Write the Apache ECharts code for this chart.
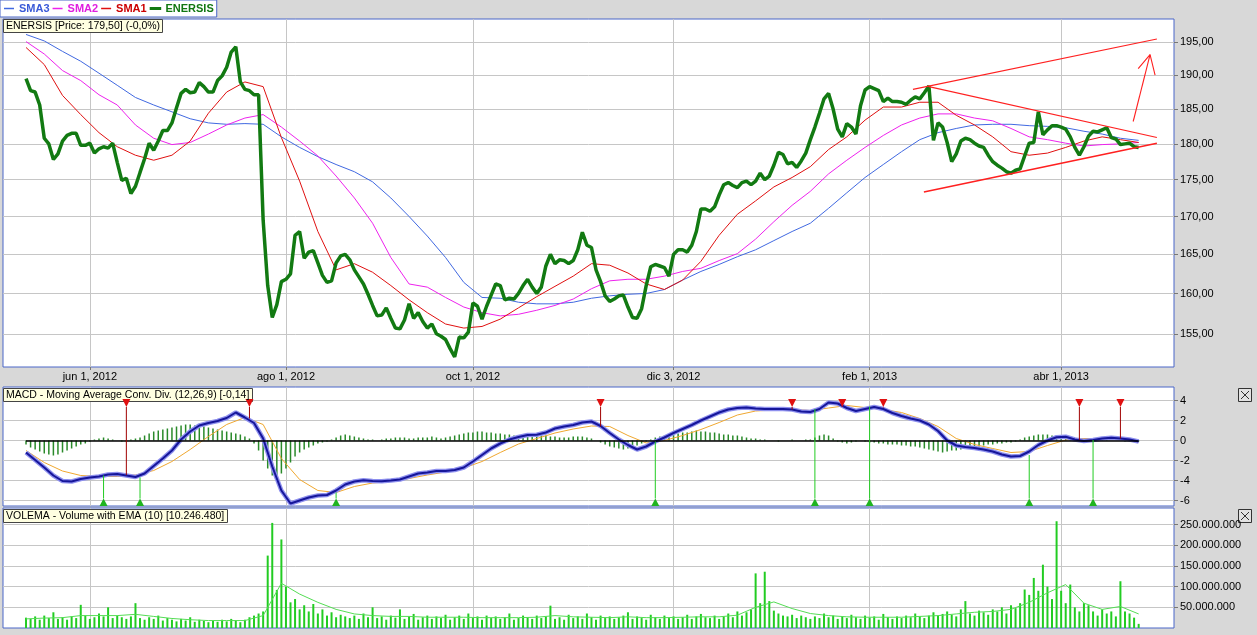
<!DOCTYPE html>
<html><head><meta charset="utf-8">
<script src="https://cdn.jsdelivr.net/npm/echarts@6/dist/echarts.min.js"></script>
<style>html,body{margin:0;padding:0;background:#d8d8d8}#c{width:1257px;height:635px}</style>
</head><body><div id="c"></div>
<script>
// ---------- axis ticks ----------
const dateTickDays = [14, 57, 98, 142, 185, 227];
const dateTickLabels = ['jun 1, 2012', 'ago 1, 2012', 'oct 1, 2012', 'dic 3, 2012', 'feb 1, 2013', 'abr 1, 2013'];
const priceTicks = [155, 160, 165, 170, 175, 180, 185, 190, 195];
const macdTicks = [-6, -4, -2, 0, 2, 4];
const volumeTicks = [50e6, 100e6, 150e6, 200e6, 250e6];

// ---------- price (one value per trading day) ----------
const enersis = [
189.5,187.7,187.5,185.6,180.8,180.0,177.8,178.6,180.4,181.2,
181.5,181.5,179.8,179.8,180.1,178.7,179.3,179.6,179.4,180.1,
177.4,174.9,175.2,173.1,174.1,176.0,177.9,180.1,179.1,180.4,
181.9,181.9,183.0,185.2,187.3,187.9,187.4,187.5,188.9,188.3,
187.5,187.5,189.2,189.9,191.2,193.5,194.3,189.0,187.9,187.7,
187.1,187.1,169.5,161.0,157.0,158.6,161.5,161.8,162.5,167.5,
168.0,164.5,165.3,165.5,163.9,162.3,161.4,161.6,163.9,164.8,
165.0,164.3,163.0,162.1,161.2,159.9,158.5,157.2,157.3,158.2,
156.9,155.7,155.6,156.7,158.7,156.9,157.6,156.5,155.7,156.2,
155.0,154.7,154.3,153.2,152.2,154.6,154.5,155.2,158.8,158.4,
156.8,158.4,159.8,161.2,161.0,159.2,159.4,159.3,160.0,161.0,
161.8,160.8,160.0,160.8,163.5,165.0,163.8,164.3,164.2,163.8,
164.2,165.6,167.9,166.2,165.9,163.0,161.5,159.7,159.0,159.3,
159.7,159.8,158.3,157.0,156.9,158.1,161.0,163.4,163.7,163.5,
163.3,162.2,165.0,165.6,165.6,165.3,166.2,168.0,171.0,171.0,
170.7,171.3,172.9,174.3,174.6,174.2,173.9,174.6,174.8,174.3,
174.8,175.9,175.0,175.5,177.0,178.8,178.5,177.2,177.4,176.7,
177.6,178.7,180.6,182.4,184.4,186.5,187.3,185.0,182.1,181.0,
182.9,182.4,181.4,185.5,187.8,188.3,188.0,187.7,186.1,186.6,
186.1,186.1,186.0,185.7,186.3,186.8,186.5,187.4,188.4,180.5,
183.0,182.4,180.2,177.5,178.6,180.4,180.8,180.6,180.1,179.7,
179.5,178.4,177.5,177.0,176.6,176.1,175.9,176.3,176.5,178.3,
180.1,180.2,184.6,181.3,182.0,182.6,182.6,182.4,182.1,181.0,
179.5,178.4,179.6,181.1,181.8,181.7,182.0,182.3,180.9,180.7,
179.9,180.0,180.1,179.6,179.5];

// ---------- moving averages (one value every 4 trading days) ----------
const SMA_STEP = 4;
const sma1 = [
194.2,191.6,187.0,184.2,181.6,179.6,178.4,177.7,178.4,180.4,
184.4,187.5,189.0,188.3,180.9,174.8,168.0,163.0,163.8,162.7,
161.0,159.2,157.6,156.2,155.7,155.9,156.8,158.2,159.6,160.9,
162.2,163.8,163.6,162.6,161.2,160.5,161.7,164.1,167.5,170.3,
172.1,174.0,175.3,176.8,179.2,181.0,183.4,185.3,185.3,186.0,
186.0,184.1,182.7,181.0,178.9,178.4,178.7,179.5,180.4,181.0,
180.6,180.2];
const sma2 = [
195.1,193.2,190.7,189.2,187.1,185.6,182.7,180.8,179.9,180.2,
181.4,182.7,183.7,184.2,182.4,180.4,178.3,175.5,172.5,169.1,
164.6,161.2,160.8,159.5,158.3,157.6,157.2,157.4,157.9,158.5,
159.3,160.6,161.6,161.8,161.8,162.2,162.8,163.2,164.2,165.1,
167.0,169.3,171.5,173.4,175.8,177.7,179.5,181.2,182.7,183.7,
184.3,184.3,183.7,183.3,182.2,181.0,180.6,180.1,179.7,179.9,
180.0,180.2];
const sma3 = [
196.2,195.2,193.6,192.1,190.3,188.5,186.7,185.6,184.6,183.6,
183.0,182.8,182.9,182.8,181.0,179.5,178.2,177.1,176.1,174.7,
172.5,170.0,167.4,164.6,161.4,159.5,159.4,158.9,158.7,158.7,
158.9,159.4,159.7,159.9,160.0,160.5,161.7,162.8,163.7,164.7,
165.6,166.8,168.0,169.1,171.1,173.2,175.3,177.1,178.9,180.6,
181.6,182.2,182.7,182.8,182.8,182.6,182.5,182.3,181.8,181.4,
180.8,180.5];

// ---------- hand-drawn trend lines [day, price] ----------
const trendUpper = [[194.5, 187.9], [248.0, 195.5]];
const trendFalling = [[198.0, 188.3], [248.0, 180.9]];
const trendRising = [[196.9, 173.3], [248.0, 180.1]];
const arrowShaft = [[242.8, 183.2], [246.5, 193.1]];
const arrowHead = [[243.9, 191.0], [246.5, 193.1], [247.6, 190.0]];

// ---------- MACD ----------
const MACD_STEP = 2;
const macdLine = [
-1.2,-1.95,-2.7,-3.5,-4.05,-4.1,-3.85,-3.7,-3.6,-3.4,
-3.35,-3.5,-3.65,-3.3,-2.55,-1.8,-1.0,0.1,0.9,1.5,
1.75,1.95,2.25,2.8,2.3,1.75,0.2,-2.6,-5.0,-6.3,
-6.0,-5.7,-5.5,-5.45,-5.0,-4.4,-4.1,-3.97,-4.05,-4.08,
-4.0,-3.9,-3.6,-3.3,-3.2,-3.05,-3.05,-2.95,-2.7,-2.1,
-1.45,-0.8,-0.3,0.1,0.35,0.55,0.58,0.8,1.2,1.4,
1.55,1.8,1.9,1.45,0.75,0.1,-0.45,-0.9,-0.6,-0.1,
0.3,0.75,1.15,1.55,2.0,2.4,2.8,3.1,3.25,3.3,
3.2,3.15,3.15,3.15,3.1,2.9,2.85,3.15,3.8,3.7,
3.25,2.95,3.15,3.35,3.15,2.75,2.45,2.2,2.0,1.6,
0.95,0.0,-0.5,-0.65,-0.75,-0.9,-1.1,-1.4,-1.6,-1.55,
-1.1,-0.45,0.0,0.33,0.38,0.1,-0.05,0.05,0.2,0.28,
0.2,0.1,-0.1];
const SIGNAL_STEP = 4;
const signalLine = [
-1.0,-2.2,-3.05,-3.5,-3.6,-3.6,-3.45,-3.0,-2.1,-0.9,
0.4,1.6,2.3,1.6,-1.8,-3.9,-5.0,-5.2,-4.6,-4.25,
-4.1,-3.8,-3.45,-3.15,-2.75,-2.1,-1.2,-0.35,0.2,0.75,
1.15,1.45,1.4,0.5,-0.25,0.0,0.5,1.1,1.8,2.55,
2.95,3.05,3.1,3.0,3.25,3.5,3.3,3.1,2.8,2.2,
1.4,0.2,-0.4,-0.8,-1.2,-1.1,-0.5,0.05,0.2,0.2,
0.12,0.0];
const histogram = [
-0.4,-0.7,-0.9,-1.1,-1.3,-1.4,-1.5,-1.4,-1.2,-1.0,
-0.8,-0.6,-0.4,-0.3,-0.1,0.1,0.2,0.3,0.2,0.1,
0.0,-0.1,-0.1,0.1,0.2,0.3,0.5,0.7,0.9,1.0,
1.1,1.2,1.3,1.4,1.5,1.6,1.6,1.5,1.5,1.4,
1.3,1.2,1.1,1.0,0.9,0.8,0.7,0.6,0.4,0.2,
-0.3,-1.0,-2.0,-2.8,-3.5,-3.7,-3.3,-2.8,-2.2,-1.6,
-1.2,-0.9,-0.7,-0.5,-0.3,-0.2,-0.1,0.1,0.3,0.5,
0.6,0.5,0.4,0.3,0.2,0.1,0.1,0.0,0.1,0.2,
0.2,0.3,0.3,0.3,0.2,0.2,0.3,0.3,0.3,0.4,
0.3,0.2,0.3,0.4,0.5,0.6,0.7,0.8,0.8,0.9,
0.9,0.8,0.8,0.7,0.7,0.6,0.6,0.5,0.4,0.3,
0.4,0.4,0.5,0.5,0.5,0.4,0.4,0.3,0.3,0.3,
0.4,0.4,0.4,0.3,0.2,0.0,-0.2,-0.4,-0.6,-0.7,
-0.8,-0.9,-0.8,-0.7,-0.5,-0.3,-0.1,0.1,0.3,0.4,
0.5,0.6,0.6,0.7,0.8,0.8,0.9,1.0,0.9,0.9,
0.8,0.8,0.7,0.6,0.6,0.5,0.5,0.4,0.3,0.2,
0.2,0.1,0.1,0.0,0.0,-0.1,0.0,0.0,0.1,0.0,
0.0,0.1,0.1,0.3,0.5,0.6,0.5,0.2,-0.1,-0.2,
-0.3,-0.2,-0.1,0.0,-0.1,-0.2,-0.2,-0.3,-0.3,-0.4,
-0.4,-0.4,-0.5,-0.5,-0.6,-0.6,-0.7,-0.8,-0.9,-1.0,
-1.1,-1.2,-1.1,-1.0,-1.0,-0.9,-0.8,-0.7,-0.6,-0.6,
-0.5,-0.4,-0.4,-0.3,-0.3,-0.2,-0.2,-0.1,0.1,0.3,
0.4,0.5,0.6,0.6,0.6,0.5,0.5,0.4,0.3,0.2,
0.1,0.0,-0.1,0.0,0.1,0.1,0.1,0.1,0.0,0.0,
0.0,-0.1,-0.1,-0.1,-0.1];
// crossover signals [day, MACD value]
const buySignals = [[17,-3.5],[25,-3.7],[68,-5.2],[138,-0.1],[173,3.15],[185,3.4],[220,-1.45],[234,0.05]];
const sellSignals = [[22,-3.45],[49,2.2],[126,1.4],[168,3.1],[179,3.4],[188,3.3],[231,0.05],[240,0.2]];

// ---------- volume (millions, one per trading day) ----------
const volumeM = [
25,22,28,20,30,24,38,22,26,20,
28,24,56,30,22,26,35,28,50,24,
30,26,22,28,60,24,20,26,22,30,
18,24,20,16,22,18,26,15,20,17,
14,18,15,20,16,22,18,14,20,26,
30,35,40,175,254,92,214,100,62,70,
45,55,40,58,35,45,30,38,26,32,
28,24,30,22,35,26,50,24,28,20,
30,25,45,22,28,34,20,26,30,22,
28,24,32,20,26,30,22,35,24,28,
20,30,24,28,22,26,35,20,24,30,
26,22,30,24,28,54,22,26,20,32,
24,28,22,35,26,20,30,24,28,22,
26,30,38,22,28,24,20,32,26,22,
30,24,28,22,26,32,22,28,34,26,
24,30,22,28,35,26,40,30,38,45,
132,60,136,65,42,35,30,28,32,24,
30,26,22,28,24,35,26,30,22,28,
24,32,26,22,30,25,28,20,34,26,
22,28,24,30,26,35,28,24,30,38,
30,34,40,32,28,45,65,35,30,42,
38,32,45,40,50,35,55,48,60,93,
80,121,90,153,100,70,258,90,60,105,
50,40,60,55,40,30,45,35,40,28,
113,40,35,25,10];
const EMA_STEP = 4;
const volumeEmaM = [
22,24,25,30,30,30,33,28,23,20,
18,18,18,30,108,82,62,45,34,30,
28,28,26,26,26,25,25,25,26,30,
27,26,25,27,25,25,26,27,27,31,
50,63,47,35,30,27,26,26,26,28,
30,34,38,40,45,62,85,105,60,45,
52,34];

// ---------- layout constants ----------
const X_MIN = -5.05, X_MAX = 251.75;
const FONT = 'Arial, "Liberation Sans", sans-serif';
const BORDER = '#4a66c8';
const gridLine = {show: true, lineStyle: {color: '#c6c6c6', width: 1}};

function xAxis(gi, labels) {
  return {
    type: 'value', gridIndex: gi, min: X_MIN, max: X_MAX,
    axisLine: {show: false, onZero: false},
    axisTick: {show: labels, customValues: dateTickDays, length: 3, lineStyle: {color: '#777'}},
    axisLabel: {show: labels, customValues: dateTickDays, color: '#000', fontSize: 11, fontFamily: FONT, margin: 4,
      formatter: v => { const i = dateTickDays.indexOf(Math.round(v)); return i >= 0 ? dateTickLabels[i] : ''; }},
    splitLine: gridLine
  };
}
function yAxis(gi, min, max, ticks, fmt) {
  return {
    type: 'value', gridIndex: gi, position: 'right', min: min, max: max,
    axisLine: {show: false, onZero: false},
    axisTick: {show: true, customValues: ticks, length: 4, lineStyle: {color: '#777'}},
    axisLabel: {customValues: ticks, formatter: fmt, color: '#000', fontSize: 11, fontFamily: FONT, margin: 6},
    splitLine: gridLine
  };
}
const dots = n => String(Math.round(n)).replace(/\B(?=(\d{3})+(?!\d))/g, '.');
const logTicks = priceTicks.map(Math.log);

function signalRenderer(isSell) {
  return function (params, api) {
    const d = api.value(0), v = api.value(1);
    const p = api.coord([d, v]);
    const e = api.coord([d, isSell ? 4.05 : -6.5]);
    const tip = isSell ? e[1] + 7 : e[1] - 7;
    const base = isSell ? e[1] - 1 : e[1] + 0.5;
    return {
      type: 'group', children: [
        {type: 'line', shape: {x1: e[0], y1: tip, x2: p[0], y2: p[1]},
          style: {stroke: isSell ? '#a00000' : '#22cc22', lineWidth: 1}},
        {type: 'polygon', shape: {points: [[e[0] - 4, base], [e[0] + 4, base], [e[0], tip]]},
          style: {fill: isSell ? '#e01010' : '#1fb41f'}}
      ]
    };
  };
}

const boxTitle = (text, top) => ({
  text: text, left: 3, top: top, padding: [1, 3, 1, 3],
  backgroundColor: '#ffffe1', borderColor: '#444', borderWidth: 1,
  textStyle: {fontSize: 10.5, fontWeight: 'normal', color: '#000', fontFamily: FONT, lineHeight: 12}
});

const trendSeries = [trendUpper, trendFalling, trendRising, arrowShaft, arrowHead].map((pts, k) => ({
  type: 'line', xAxisIndex: 0, yAxisIndex: 0, silent: true, showSymbol: false, z: 6,
  data: pts.map(p => [p[0], Math.log(p[1])]),
  lineStyle: {color: '#ff2020', width: k === 2 ? 1.6 : 1.1}
}));

const option = {
  animation: false,
  backgroundColor: '#d8d8d8',
  title: [
    boxTitle('ENERSIS [Price: 179,50] (-0,0%)', 19),
    boxTitle('MACD - Moving Average Conv. Div. (12,26,9) [-0,14]', 388),
    boxTitle('VOLEMA - Volume with EMA (10) [10.246.480]', 509)
  ],
  legend: {
    left: 0, top: 0, padding: [3, 3, 3, 4], itemGap: 3, itemWidth: 10, itemHeight: 1.5,
    backgroundColor: '#fff', borderColor: BORDER, borderWidth: 1, selectedMode: false,
    textStyle: {fontSize: 11, fontWeight: 'bold', fontFamily: FONT},
    data: [
      {name: 'SMA3', icon: 'rect', itemStyle: {color: '#4169e1'}, textStyle: {color: '#3a5ad8'}},
      {name: 'SMA2', icon: 'rect', itemStyle: {color: '#ee22ee'}, textStyle: {color: '#e020e0'}},
      {name: 'SMA1', icon: 'rect', itemStyle: {color: '#e01010'}, textStyle: {color: '#cc0000'}},
      {name: 'ENERSIS', icon: 'rect', itemStyle: {color: '#127a12', borderColor: '#127a12', borderWidth: 1.5}, textStyle: {color: '#117711'}}
    ]
  },
  grid: [
    {left: 3, top: 19, width: 1171, height: 348, show: true, backgroundColor: '#fff', borderColor: BORDER, borderWidth: 1},
    {left: 3, top: 387, width: 1171, height: 119, show: true, backgroundColor: '#fff', borderColor: BORDER, borderWidth: 1},
    {left: 3, top: 508, width: 1171, height: 120, show: true, backgroundColor: '#fff', borderColor: BORDER, borderWidth: 1}
  ],
  xAxis: [xAxis(0, true), xAxis(1, false), xAxis(2, false)],
  yAxis: [
    yAxis(0, Math.log(151.0), Math.log(198.6), logTicks, v => Math.exp(v).toFixed(2).replace('.', ',')),
    yAxis(1, -6.55, 5.35, macdTicks, v => String(v)),
    yAxis(2, 0, 290e6, volumeTicks, v => dots(v))
  ],
  graphic: [388, 509].map(t => ({
    type: 'group', left: 1238, top: t, children: [
      {type: 'rect', shape: {x: 0, y: 0, width: 13, height: 13}, style: {fill: '#e2e2e2', stroke: '#333', lineWidth: 1}},
      {type: 'line', shape: {x1: 2.5, y1: 2.5, x2: 10.5, y2: 10.5}, style: {stroke: '#333', lineWidth: 1}},
      {type: 'line', shape: {x1: 10.5, y1: 2.5, x2: 2.5, y2: 10.5}, style: {stroke: '#333', lineWidth: 1}}
    ]
  })),
  series: [
    {name: 'SMA3', type: 'line', xAxisIndex: 0, yAxisIndex: 0, showSymbol: false, z: 3,
      data: sma3.map((v, i) => [i * SMA_STEP, Math.log(v)]), lineStyle: {color: '#4169e1', width: 1}, itemStyle: {color: '#4169e1'}},
    {name: 'SMA2', type: 'line', xAxisIndex: 0, yAxisIndex: 0, showSymbol: false, z: 3,
      data: sma2.map((v, i) => [i * SMA_STEP, Math.log(v)]), lineStyle: {color: '#ee22ee', width: 1}, itemStyle: {color: '#ee22ee'}},
    {name: 'SMA1', type: 'line', xAxisIndex: 0, yAxisIndex: 0, showSymbol: false, z: 3,
      data: sma1.map((v, i) => [i * SMA_STEP, Math.log(v)]), lineStyle: {color: '#e01010', width: 1}, itemStyle: {color: '#e01010'}},
    {name: 'ENERSIS', type: 'line', xAxisIndex: 0, yAxisIndex: 0, showSymbol: false, z: 5,
      data: enersis.map((v, i) => [i, Math.log(v)]), lineStyle: {color: '#127a12', width: 3.5}, itemStyle: {color: '#127a12'}},
    ...trendSeries,
    {name: 'Histogram', type: 'bar', xAxisIndex: 1, yAxisIndex: 1, barWidth: 1.5, silent: true, z: 2,
      data: histogram.map((v, i) => [i, v]), itemStyle: {color: '#2a8a2a'},
      markLine: {silent: true, symbol: 'none', label: {show: false}, lineStyle: {color: '#000', width: 1.5, type: 'solid'},
        data: [[{coord: [0, 0]}, {coord: [enersis.length - 1, 0]}]]}},
    {name: 'Signal', type: 'line', xAxisIndex: 1, yAxisIndex: 1, showSymbol: false, z: 3,
      data: signalLine.map((v, i) => [i * SIGNAL_STEP, v]), lineStyle: {color: '#f0a830', width: 1}},
    {name: 'MACD halo', type: 'line', xAxisIndex: 1, yAxisIndex: 1, showSymbol: false, z: 4,
      data: macdLine.map((v, i) => [i * MACD_STEP, v]), lineStyle: {color: '#8e90ee', width: 4.5}},
    {name: 'MACD', type: 'line', xAxisIndex: 1, yAxisIndex: 1, showSymbol: false, z: 4,
      data: macdLine.map((v, i) => [i * MACD_STEP, v]), lineStyle: {color: '#16169a', width: 2}},
    {name: 'Buy', type: 'custom', xAxisIndex: 1, yAxisIndex: 1, z: 6, data: buySignals, renderItem: signalRenderer(false)},
    {name: 'Sell', type: 'custom', xAxisIndex: 1, yAxisIndex: 1, z: 6, data: sellSignals, renderItem: signalRenderer(true)},
    {name: 'Volume', type: 'bar', xAxisIndex: 2, yAxisIndex: 2, barWidth: 2, silent: true, z: 2,
      data: volumeM.map((v, i) => [i, v * 1e6]), itemStyle: {color: '#22cc22'}},
    {name: 'EMA', type: 'line', xAxisIndex: 2, yAxisIndex: 2, showSymbol: false, z: 3,
      data: volumeEmaM.map((v, i) => [i * EMA_STEP, v * 1e6]), lineStyle: {color: '#55dd55', width: 1}}
  ]
};
echarts.init(document.getElementById('c')).setOption(option);
</script></body></html>
